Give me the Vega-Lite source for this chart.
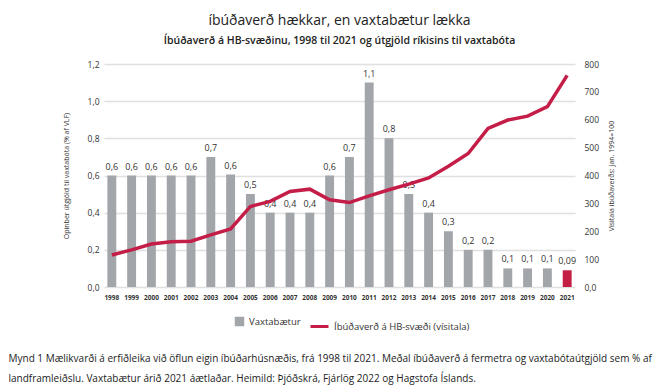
{
  "$schema": "https://vega.github.io/schema/vega-lite/v6.json",
  "width": 471,
  "height": 223,
  "autosize": {"type": "none"},
  "padding": {"left": 104, "top": 64, "right": 87, "bottom": 103},
  "background": "white",
  "config": {
    "locale": {"number": {"decimal": ",", "thousands": ".", "grouping": [3], "currency": ["", ""]}},
    "font": "Open Sans",
    "view": {"stroke": null},
    "axis": {"labelColor": "#333", "titleColor": "#333", "domain": false, "ticks": false}
  },
  "title": {
    "text": "íbúðaverð hækkar, en vaxtabætur lækka",
    "subtitle": "Íbúðaverð á HB-svæðinu, 1998 til 2021 og útgjöld ríkisins til vaxtabóta",
    "fontSize": 14,
    "fontWeight": 500,
    "subtitleFontSize": 10.5,
    "subtitleFontWeight": 600,
    "color": "#222",
    "subtitleColor": "#222",
    "offset": 14,
    "subtitlePadding": 8,
    "anchor": "middle"
  },
  "data": {
    "values": [
      {"year": "1998", "vaxtabaetur": 0.6, "label": "0,6", "visitala": 115},
      {"year": "1999", "vaxtabaetur": 0.6, "label": "0,6", "visitala": 133},
      {"year": "2000", "vaxtabaetur": 0.6, "label": "0,6", "visitala": 154},
      {"year": "2001", "vaxtabaetur": 0.6, "label": "0,6", "visitala": 162},
      {"year": "2002", "vaxtabaetur": 0.6, "label": "0,6", "visitala": 164},
      {"year": "2003", "vaxtabaetur": 0.7, "label": "0,7", "visitala": 187},
      {"year": "2004", "vaxtabaetur": 0.605, "label": "0,6", "visitala": 208},
      {"year": "2005", "vaxtabaetur": 0.5, "label": "0,5", "visitala": 289},
      {"year": "2006", "vaxtabaetur": 0.4, "label": "0,4", "visitala": 307},
      {"year": "2007", "vaxtabaetur": 0.4, "label": "0,4", "visitala": 343},
      {"year": "2008", "vaxtabaetur": 0.4, "label": "0,4", "visitala": 351},
      {"year": "2009", "vaxtabaetur": 0.6, "label": "0,6", "visitala": 313},
      {"year": "2010", "vaxtabaetur": 0.7, "label": "0,7", "visitala": 303},
      {"year": "2011", "vaxtabaetur": 1.1, "label": "1,1", "visitala": 327},
      {"year": "2012", "vaxtabaetur": 0.8, "label": "0,8", "visitala": 349},
      {"year": "2013", "vaxtabaetur": 0.5, "label": "0,5", "visitala": 369},
      {"year": "2014", "vaxtabaetur": 0.4, "label": "0,4", "visitala": 391},
      {"year": "2015", "vaxtabaetur": 0.3, "label": "0,3", "visitala": 433},
      {"year": "2016", "vaxtabaetur": 0.2, "label": "0,2", "visitala": 479},
      {"year": "2017", "vaxtabaetur": 0.2, "label": "0,2", "visitala": 569},
      {"year": "2018", "vaxtabaetur": 0.1, "label": "0,1", "visitala": 599},
      {"year": "2019", "vaxtabaetur": 0.1, "label": "0,1", "visitala": 613},
      {"year": "2020", "vaxtabaetur": 0.1, "label": "0,1", "visitala": 647},
      {"year": "2021", "vaxtabaetur": 0.09, "label": "0,09", "visitala": 759}
    ]
  },
  "layer": [
    {
      "layer": [
        {
          "mark": {"type": "bar"},
          "encoding": {
            "x": {
              "field": "year",
              "type": "ordinal",
              "scale": {"paddingInner": 0.55, "paddingOuter": 0.17},
              "axis": {
                "labelAngle": 0,
                "labelFontSize": 6.5,
                "labelFontWeight": "bold",
                "labelPadding": 7,
                "title": [
                  "Mynd 1 Mælikvarði á erfiðleika við öflun eigin íbúðarhúsnæðis, frá 1998 til 2021. Meðal íbúðaverð á fermetra og vaxtabótaútgjöld sem % af",
                  "landframleiðslu. Vaxtabætur árið 2021 áætlaðar. Heimild: Þjóðskrá, Fjárlög 2022 og Hagstofa Íslands."
                ],
                "titleX": -96,
                "titleY": 66,
                "titleAlign": "left",
                "titleAnchor": "start",
                "titleBaseline": "top",
                "titleFontSize": 10,
                "titleFontWeight": "normal",
                "titleLineHeight": 20,
                "titleColor": "#222"
              }
            },
            "y": {
              "field": "vaxtabaetur",
              "type": "quantitative",
              "scale": {"domain": [0, 1.2]},
              "axis": {
                "values": [0, 0.2, 0.4, 0.6, 0.8, 1.0, 1.2],
                "tickCount": 7,
                "labelOverlap": false,
                "format": ".1f",
                "grid": true,
                "gridColor": "#e0e0e0",
                "gridWidth": 1.5,
                "labelFontSize": 8.5,
                "labelPadding": 5,
                "title": "Opinber útgjöld til vaxtabóta (% af VLF)",
                "titleFontSize": 7,
                "titleFontWeight": "normal",
                "titlePadding": 18
              }
            },
            "fill": {
              "condition": {"test": "datum.year === '2021'", "value": "#C41E45"},
              "datum": "Vaxtabætur",
              "scale": {"range": ["#A2A6AA"]},
              "legend": {
                "orient": "none",
                "legendX": 130,
                "legendY": 252,
                "title": null,
                "symbolType": "square",
                "symbolSize": 90,
                "labelFontSize": 9.5,
                "labelColor": "#333"
              }
            }
          }
        },
        {
          "mark": {"type": "text", "baseline": "bottom", "dy": -4, "fontSize": 9, "color": "#333"},
          "encoding": {
            "x": {"field": "year", "type": "ordinal"},
            "y": {
              "field": "vaxtabaetur",
              "type": "quantitative",
              "axis": {
                "values": [0, 0.2, 0.4, 0.6, 0.8, 1.0, 1.2],
                "tickCount": 7,
                "labelOverlap": false,
                "format": ".1f",
                "grid": true,
                "gridColor": "#e0e0e0",
                "gridWidth": 1.5,
                "labelFontSize": 8.5,
                "labelPadding": 5,
                "title": "Opinber útgjöld til vaxtabóta (% af VLF)",
                "titleFontSize": 7,
                "titleFontWeight": "normal",
                "titlePadding": 18
              }
            },
            "text": {"field": "label"}
          }
        }
      ]
    },
    {
      "mark": {"type": "line", "strokeWidth": 3.5},
      "encoding": {
        "x": {"field": "year", "type": "ordinal"},
        "y": {
          "field": "visitala",
          "type": "quantitative",
          "scale": {"domain": [0, 800]},
          "axis": {
            "orient": "right",
            "grid": false,
            "values": [0, 100, 200, 300, 400, 500, 600, 700, 800],
            "labelOverlap": false,
            "format": "d",
            "labelExpr": "datum.value === 0 ? '0,0' : datum.label",
            "labelFontSize": 8.5,
            "labelFontWeight": 500,
            "labelPadding": 9,
            "title": "Vísitala íbúðaverðs: Jan. 1994=100",
            "titleAngle": 270,
            "titleFontSize": 7,
            "titleFontWeight": "normal",
            "titlePadding": 16
          }
        },
        "stroke": {
          "datum": "Íbúðaverð á HB-svæði (vísitala)",
          "scale": {"range": ["#C41E48"]},
          "legend": {
            "orient": "none",
            "legendX": 205,
            "legendY": 252,
            "title": null,
            "symbolSize": 324,
            "symbolStrokeWidth": 3,
            "labelFontSize": 9.5,
            "labelColor": "#333"
          }
        }
      }
    }
  ],
  "resolve": {"scale": {"y": "independent"}}
}
